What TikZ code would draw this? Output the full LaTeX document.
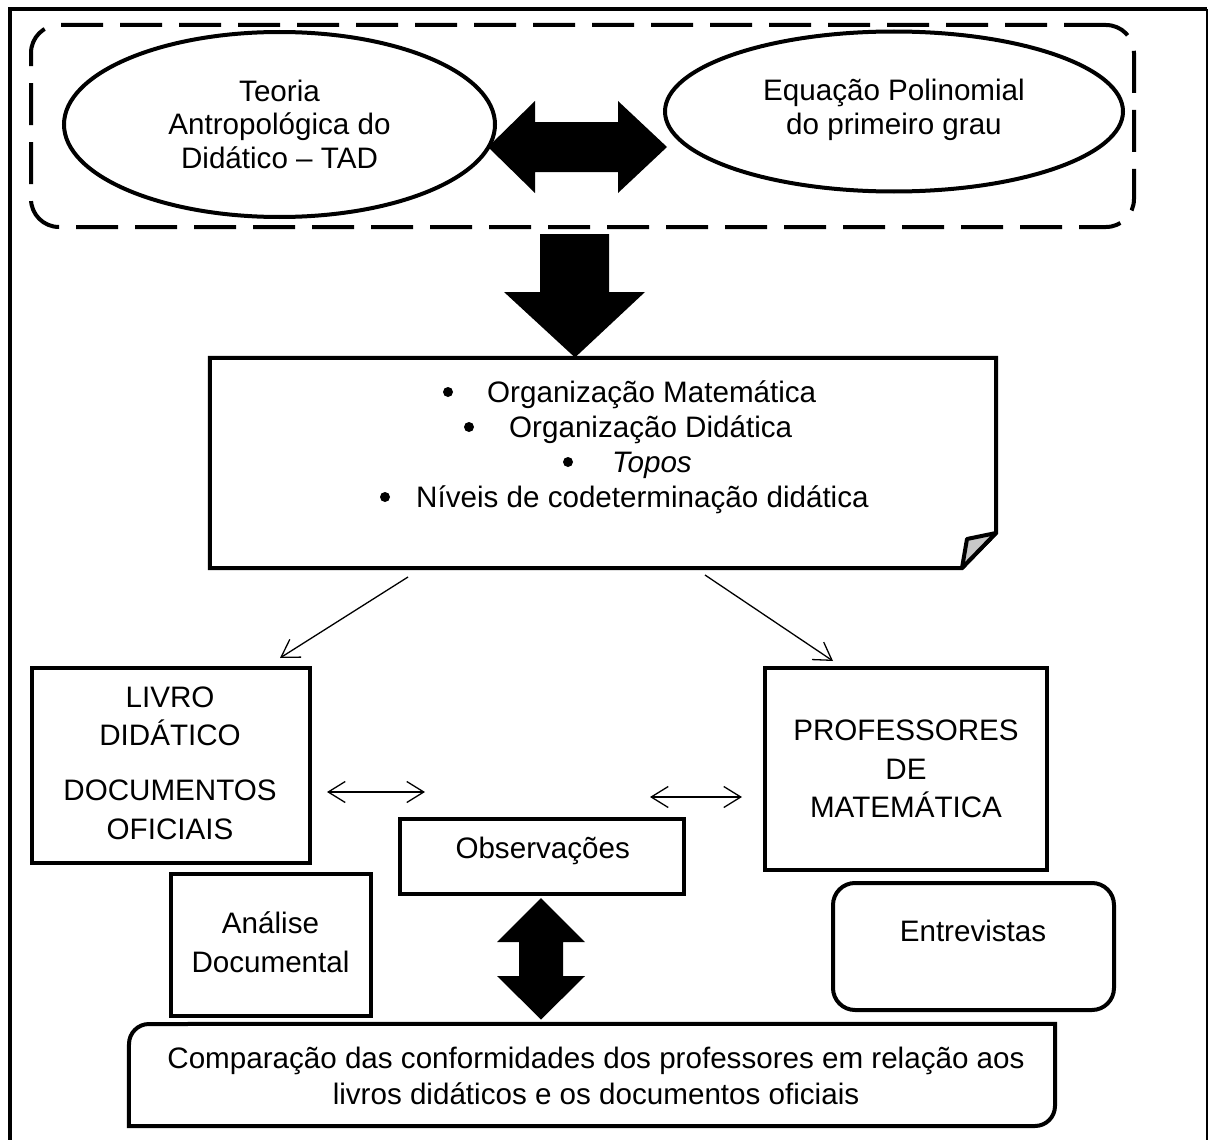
\documentclass[tikz,border=0pt]{standalone}
\usepackage{fontspec}
\setmainfont{Liberation Sans}
\usetikzlibrary{shapes.geometric,arrows.meta}
\begin{document}
\begin{tikzpicture}[x=1pt,y=-1pt,
  heavy/.style={line width=4pt},
  ellipsebox/.style={draw, ellipse, line width=4pt, inner sep=0pt},
  boxnode/.style={draw, rectangle, line width=4pt, inner sep=0pt},
  plainnode/.style={rectangle, inner sep=0pt},
  lbl/.style={font=\fontsize{29.6}{#1}\selectfont, align=center, inner sep=0pt},
  lbl/.default=35,
  bul/.style={circle, fill=black, minimum size=10pt, inner sep=0pt},
  onearrow/.style={line width=1.3pt, -{Straight Barb[length=17pt,width=21pt]}},
  twoarrow/.style={line width=1.3pt, {Straight Barb[length=17pt,width=21pt]}-{Straight Barb[length=17pt,width=21pt]}},
  bigarrow/.style={fill=black}
]
\useasboundingbox (0,0) rectangle (1211,1140);

% outer frame
\draw[line width=4pt] (10,1142) -- (10,9) -- (1207,9);
\draw[line width=2pt] (1207,9) -- (1207,1142);

% dashed group
\node[draw, rectangle, rounded corners=28pt, line width=4pt, dash pattern=on 42pt off 17pt,
      minimum width=1103pt, minimum height=202pt, inner sep=0pt] (group) at (582.5,126) {};

% ellipses
\node[ellipsebox, minimum width=431pt, minimum height=185pt] (tad) at (279.5,124.5) {};
\node[lbl=33.3] (tadT) at (279.5,128.3) {\strut Teoria\\\strut Antropológica do\\\strut Didático – TAD};
\node[ellipsebox, minimum width=458pt, minimum height=160pt] (eq) at (894,111.5) {};
\node[lbl=35] (eqT) at (894,110.5) {\strut Equação Polinomial\\\strut do primeiro grau};

% horizontal thick double arrow
\fill[bigarrow] (488,147) -- (535,101) -- (535,122) -- (618,122) -- (618,101) -- (667,147)
  -- (618,193) -- (618,172) -- (535,172) -- (535,193) -- cycle;

% big down arrow
\fill[bigarrow] (540,234) -- (609,234) -- (609,292) -- (645,292) -- (575,357.5) -- (504,292) -- (540,292) -- cycle;

% document box
\node[plainnode, minimum width=786pt, minimum height=210pt] (doc) at (603,463) {};
\draw[heavy, line join=miter] (doc.north west) -- (doc.north east) -- (996,533) -- (962,568) -- (doc.south west) -- cycle;
\filldraw[heavy, fill=black!22, line join=round] (996,533) -- (967,539) -- (962,568) -- cycle;

\node[bul] (b1) at (448,392) {};
\node[lbl, anchor=base west] (o1) at (487,402) {Organização Matemática};
\node[bul] (b2) at (469,427) {};
\node[lbl, anchor=base west] (o2) at (509,437) {Organização Didática};
\node[bul] (b3) at (568,462) {};
\node[lbl, anchor=base west] (o3) at (612,472) {\itshape Topos};
\node[bul] (b4) at (385,497) {};
\node[lbl, anchor=base west] (o4) at (416,507) {Níveis de codeterminação didática};

% lower boxes
\node[boxnode, minimum width=278pt, minimum height=195pt] (livro) at (171,765.5) {};
\node[lbl=38.5] (livroT) at (170,765.3) {\strut LIVRO\\\strut DIDÁTICO\\[16.5pt]\strut DOCUMENTOS\\\strut OFICIAIS};

\node[boxnode, minimum width=282pt, minimum height=202pt] (prof) at (906,769) {};
\node[lbl=38.5] (profT) at (906,771.6) {\strut PROFESSORES\\\strut DE\\\strut MATEMÁTICA};

\node[boxnode, minimum width=284pt, minimum height=75pt] (obs) at (542,856.5) {};
\node[lbl=35] (obsT) at (542.7,851.3) {\strut Observações};

\node[boxnode, minimum width=200pt, minimum height=142pt] (ana) at (271,945) {};
\node[lbl=39.4] (anaT) at (270.5,945.1) {\strut Análise\\\strut Documental};

\node[boxnode, rounded corners=22pt, minimum width=281pt, minimum height=127pt] (entr) at (973.5,946.5) {};
\node[lbl=35] (entrT) at (973,934.7) {\strut Entrevistas};

% comparison box (round diagonal corners)
\node[plainnode, minimum width=926pt, minimum height=102pt] (comp) at (592,1075) {};
\draw[heavy] (comp.south west) -- (129,1044) arc[start angle=180, end angle=90, radius=20pt]
  -- (comp.north east) -- (1055,1106) arc[start angle=0, end angle=-90, radius=20pt] -- cycle;
\node[lbl=36.7] (compT) at (596,1079.3) {\strut Comparação das conformidades dos professores em relação aos\\\strut livros didáticos e os documentos oficiais};

% vertical thick double arrow
\fill[bigarrow] (541,898) -- (585,942) -- (563,942) -- (563,976) -- (585,976) -- (541,1019.5)
  -- (497,976) -- (519,976) -- (519,942) -- (497,942) -- cycle;

% thin arrows
\coordinate (d1) at (408,577);
\coordinate (l1) at (280,658);
\coordinate (d2) at (705,575);
\coordinate (p1) at (833,661);
\coordinate (lo1) at (327,792);
\coordinate (lo2) at (425,792);
\coordinate (op1) at (650,797);
\coordinate (op2) at (742,797);
\draw[onearrow] (d1) -- (l1);
\draw[onearrow] (d2) -- (p1);
\draw[twoarrow] (lo1) -- (lo2);
\draw[twoarrow] (op1) -- (op2);
\end{tikzpicture}
\end{document}
